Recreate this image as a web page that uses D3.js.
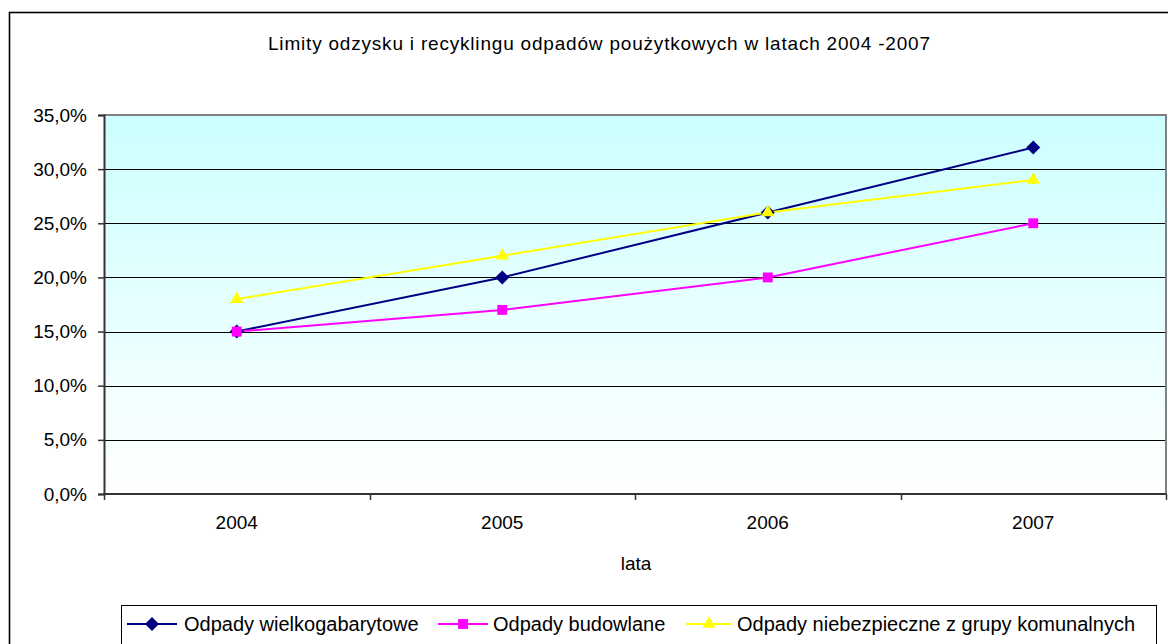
<!DOCTYPE html>
<html>
<head>
<meta charset="utf-8">
<script src="https://cdn.jsdelivr.net/npm/d3@7/dist/d3.min.js"></script>
<style>
  html, body { margin: 0; padding: 0; background: #fff; }
  svg { display: block; font-family: "Liberation Sans", Arial, sans-serif; }
</style>
</head>
<body>
<svg id="chart" width="1168" height="644"></svg>
<script>
// Recovery / recycling limits per waste group, 2004–2007
const years = ["2004", "2005", "2006", "2007"];
const wielkogabarytowe = [15, 20, 26, 32];
const budowlane = [15, 17, 20, 25];
const niebezpieczne = [18, 22, 26, 29];
const seriesNames = [
  "Odpady wielkogabarytowe",
  "Odpady budowlane",
  "Odpady niebezpieczne z grupy komunalnych"
];
const yTicks = [0, 5, 10, 15, 20, 25, 30, 35];
const titleText = "Limity odzysku i recyklingu odpadów  poużytkowych w  latach 2004 -2007";
const xAxisTitle = "lata";

const series = [
  { name: seriesNames[0], values: wielkogabarytowe, color: "#000080", symbol: d3.symbolDiamond2, size: 125 },
  { name: seriesNames[1], values: budowlane, color: "#FF00FF", symbol: d3.symbolSquare2, size: 125 },
  { name: seriesNames[2], values: niebezpieczne, color: "#FFFF00", symbol: d3.symbolTriangle2, size: 125 }
];

const svg = d3.select("#chart");
const plot = { left: 104, right: 1166, top: 115, bottom: 494 };

// outer chart frame (continues past the right and bottom edges)
svg.append("rect")
  .attr("x", 9.5).attr("y", 12.5)
  .attr("width", 1200).attr("height", 700)
  .attr("fill", "#fff").attr("stroke", "#000").attr("stroke-width", 1.6);

// plot-area gradient
const defs = svg.append("defs");
const grad = defs.append("linearGradient").attr("id", "bg")
  .attr("x1", 0).attr("y1", 0).attr("x2", 0).attr("y2", 1);
grad.append("stop").attr("offset", "0%").attr("stop-color", "#CCFFFF");
grad.append("stop").attr("offset", "100%").attr("stop-color", "#FFFFFF");

const x = d3.scaleBand().domain(years).range([plot.left, plot.right]);
const y = d3.scaleLinear().domain([0, 35]).range([plot.bottom, plot.top]);

svg.append("rect")
  .attr("x", plot.left).attr("y", plot.top)
  .attr("width", plot.right - plot.left).attr("height", plot.bottom - plot.top)
  .attr("fill", "url(#bg)");

// horizontal gridlines
svg.append("g").selectAll("line")
  .data(yTicks.filter(t => t > 0 && t < 35))
  .join("line")
  .attr("x1", plot.left).attr("x2", plot.right)
  .attr("y1", d => Math.round(y(d)) + 0.5).attr("y2", d => Math.round(y(d)) + 0.5)
  .attr("stroke", "#000").attr("stroke-width", 1);

// plot-area border (top and right)
svg.append("path")
  .attr("d", `M${plot.left},${plot.top} H${plot.right} V${plot.bottom}`)
  .attr("fill", "none").attr("stroke", "#808080").attr("stroke-width", 2);

// y axis
const yAxis = d3.axisLeft(y).tickValues(yTicks)
  .tickFormat(d => d3.format(".1f")(d).replace(".", ",") + "%")
  .tickSize(6).tickPadding(11);
const gy = svg.append("g").attr("transform", `translate(${plot.left},0)`).call(yAxis);
gy.select(".domain").attr("stroke", "#333").attr("stroke-width", 2);
gy.selectAll(".tick line").attr("stroke", "#333").attr("stroke-width", 1.5);
gy.selectAll(".tick text").attr("font-size", 19).attr("fill", "#000")
  .attr("font-family", "Liberation Sans, Arial, sans-serif");

// x axis, ticks on category boundaries
const xAxis = d3.axisBottom(x).tickSize(0).tickPadding(22);
const gx = svg.append("g").attr("transform", `translate(0,${plot.bottom})`).call(xAxis);
gx.select(".domain").remove();
gx.selectAll(".tick text").attr("font-size", 19).attr("fill", "#000")
  .attr("font-family", "Liberation Sans, Arial, sans-serif");
svg.append("line")
  .attr("x1", plot.left - 1).attr("x2", plot.right)
  .attr("y1", plot.bottom).attr("y2", plot.bottom)
  .attr("stroke", "#333").attr("stroke-width", 2);
const edges = years.map(d => x(d)).concat([x(years[years.length - 1]) + x.bandwidth()]);
svg.append("g").selectAll("line").data(edges).join("line")
  .attr("x1", d => Math.round(d) + 0.5).attr("x2", d => Math.round(d) + 0.5)
  .attr("y1", plot.bottom).attr("y2", plot.bottom + 6)
  .attr("stroke", "#333").attr("stroke-width", 1.5);

// series lines and markers
const line = d3.line()
  .x((d, i) => x(years[i]) + x.bandwidth() / 2)
  .y(d => y(d));

series.forEach(s => {
  svg.append("path")
    .datum(s.values)
    .attr("d", line)
    .attr("fill", "none")
    .attr("stroke", s.color)
    .attr("stroke-width", 2);
});
series.forEach(s => {
  svg.append("g").selectAll("path")
    .data(s.values)
    .join("path")
    .attr("transform", (d, i) => `translate(${x(years[i]) + x.bandwidth() / 2},${y(d)})`)
    .attr("d", d3.symbol().type(s.symbol).size(s.size))
    .attr("fill", s.color);
});

// title and axis title
svg.append("text")
  .attr("x", 599).attr("y", 50)
  .attr("text-anchor", "middle").attr("font-size", 19)
  .attr("textLength", 662).attr("lengthAdjust", "spacing")
  .text(titleText);
svg.append("text")
  .attr("x", 636).attr("y", 570)
  .attr("text-anchor", "middle").attr("font-size", 19)
  .text(xAxisTitle);

// legend
const legend = svg.append("g");
legend.append("rect")
  .attr("x", 121.5).attr("y", 605.5)
  .attr("width", 1035).attr("height", 60)
  .attr("fill", "#fff").attr("stroke", "#000").attr("stroke-width", 1);
const legendItems = [
  { lx: 127, len: 50, tx: 184 },
  { lx: 438, len: 50, tx: 493 },
  { lx: 686, len: 46, tx: 737 }
];
series.forEach((s, i) => {
  const it = legendItems[i];
  const cy = 624;
  legend.append("line")
    .attr("x1", it.lx).attr("x2", it.lx + it.len)
    .attr("y1", cy).attr("y2", cy)
    .attr("stroke", s.color).attr("stroke-width", 2);
  legend.append("path")
    .attr("transform", `translate(${it.lx + it.len / 2},${cy})`)
    .attr("d", d3.symbol().type(s.symbol).size(s.size))
    .attr("fill", s.color);
  legend.append("text")
    .attr("x", it.tx).attr("y", cy + 7)
    .attr("font-size", 20)
    .text(s.name);
});
</script>
</body>
</html>
